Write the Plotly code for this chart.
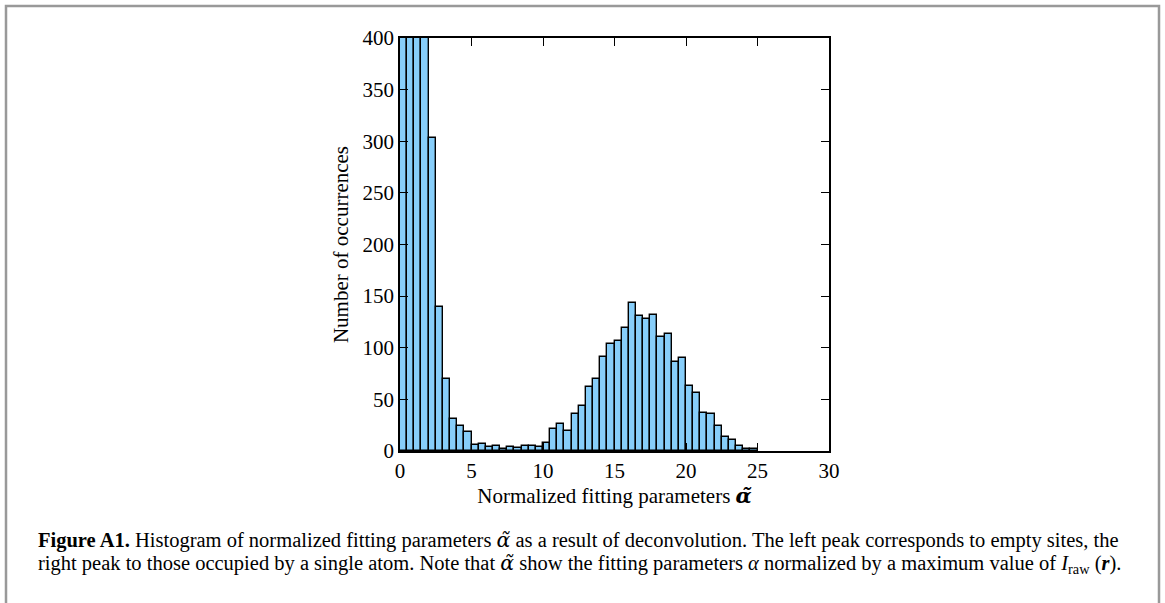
import plotly.graph_objects as go

# Histogram data (bin width 0.5, from 0 to 25); first four bins exceed the 400 axis limit (clipped)
bin_edges_left = [0, 0.5, 1, 1.5, 2, 2.5, 3, 3.5, 4, 4.5,
                  5, 5.5, 6, 6.5, 7, 7.5, 8, 8.5, 9, 9.5,
                  10, 10.5, 11, 11.5, 12, 12.5, 13, 13.5, 14, 14.5,
                  15, 15.5, 16, 16.5, 17, 17.5, 18, 18.5, 19, 19.5,
                  20, 20.5, 21, 21.5, 22, 22.5, 23, 23.5, 24, 24.5]
counts = [560, 720, 650, 480, 303, 139, 70, 31, 24, 18,
          6, 7, 4, 5, 2, 4, 3, 5, 5, 4,
          8, 21, 26, 19, 36, 44, 62, 70, 91, 104,
          107, 119, 143, 131, 128, 132, 110, 113, 86, 90,
          63, 56, 37, 36, 24, 14, 11, 5, 2, 2]
bin_width = 0.5

x_ticks = [0, 5, 10, 15, 20, 25, 30]
y_ticks = [0, 50, 100, 150, 200, 250, 300, 350, 400]

FONT = "Liberation Serif"
ALPHA_T = '<span style="font-family:DejaVu Serif">α̃</span>'

fig = go.Figure()
fig.add_trace(go.Bar(
    x=[e + bin_width / 2 for e in bin_edges_left],
    y=counts,
    width=bin_width,
    marker=dict(color="#87CEFA", line=dict(color="black", width=1.4)),
    showlegend=False,
    hoverinfo="x+y",
))

axis_common = dict(
    showgrid=False, zeroline=False, showline=True, mirror="ticks",
    linecolor="black", linewidth=1.5, ticks="inside", ticklen=8,
    tickwidth=1.3, tickcolor="black",
    tickfont=dict(family=FONT, size=21, color="black"),
)

fig.update_layout(
    width=1165, height=603,
    margin=dict(l=400, r=336, t=38, b=152),
    paper_bgcolor="white", plot_bgcolor="white",
    bargap=0,
    xaxis=dict(range=[0, 30], tickvals=x_ticks, **axis_common,
               title=dict(text=f"Normalized fitting parameters <b><i>{ALPHA_T}</i></b>",
                          font=dict(family=FONT, size=21, color="black"), standoff=0)),
    yaxis=dict(range=[0, 400], tickvals=y_ticks, **axis_common,
               title=dict(text="Number of occurrences",
                          font=dict(family=FONT, size=21, color="black"), standoff=8)),
    font=dict(family=FONT, color="black"),
)

# Outer frame (gray border, open at the bottom)
def px_x(px):
    return (px - 400) / 429.0

def px_y(py):
    return (451 - py) / 413.0

fig.add_shape(type="path", xref="paper", yref="paper",
              path=f"M {px_x(6)} {px_y(620)} L {px_x(6)} {px_y(6)} L {px_x(1159)} {px_y(6)} L {px_x(1159)} {px_y(620)}",
              line=dict(color="#999999", width=2.5))

caption1 = (f"<b>Figure A1.</b> Histogram of normalized fitting parameters <i>{ALPHA_T}</i> as a result of deconvolution. "
            "The left peak corresponds to empty sites, the")
caption2 = (f"right peak to those occupied by a single atom. Note that <i>{ALPHA_T}</i> show the fitting parameters "
            "<i>α</i> normalized by a maximum value of <i>I</i><sub>raw</sub> (<b><i>r</i></b>).")

fig.add_annotation(text=caption1, xref="paper", yref="paper", x=px_x(36), y=px_y(540),
                   xanchor="left", yanchor="middle", showarrow=False,
                   font=dict(family=FONT, size=20.5, color="black"))
fig.add_annotation(text=caption2, xref="paper", yref="paper", x=px_x(36), y=px_y(564),
                   xanchor="left", yanchor="middle", showarrow=False,
                   font=dict(family=FONT, size=20.5, color="black"))

fig.write_html("out.html")
